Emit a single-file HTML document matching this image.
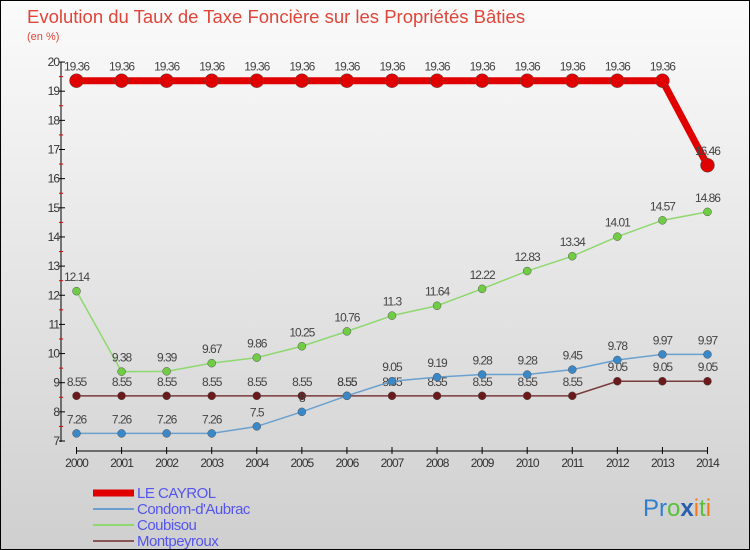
<!DOCTYPE html>
<html><head><meta charset="utf-8"><style>
body{margin:0}
#c{width:750px;height:550px;position:relative;background:linear-gradient(#fbfbfb,#cfcfcf);box-sizing:border-box;border:1px solid #000;font-family:"Liberation Sans",sans-serif;overflow:hidden}
</style></head><body>
<div id="c">
<svg id="s" width="750" height="550" style="position:absolute;left:0;top:0" font-family="Liberation Sans, sans-serif">
<text x="26" y="22" font-size="18.5" fill="#e0453a">Evolution du Taux de Taxe Foncière sur les Propriétés Bâties</text>
<text x="26" y="39" font-size="11" fill="#e0453a">(en %)</text>
<g id="g"></g>
<text x="642" y="515" font-size="24"><tspan fill="#2f7fd0">Pr</tspan><tspan fill="#5bbf3a">o</tspan><tspan fill="#2a5fb0" font-weight="bold">x</tspan><tspan fill="#f07a1a">i</tspan><tspan fill="#5bbf3a">t</tspan><tspan fill="#f07a1a">i</tspan></text>
</svg>
</div>
<script>
const years=[2000,2001,2002,2003,2004,2005,2006,2007,2008,2009,2010,2011,2012,2013,2014];
const cayrol=[19.36,19.36,19.36,19.36,19.36,19.36,19.36,19.36,19.36,19.36,19.36,19.36,19.36,19.36,16.46];
const condom=[7.26,7.26,7.26,7.26,7.5,8,8.55,9.05,9.19,9.28,9.28,9.45,9.78,9.97,9.97];
const coubisou=[12.14,9.38,9.39,9.67,9.86,10.25,10.76,11.3,11.64,12.22,12.83,13.34,14.01,14.57,14.86];
const montp=[8.55,8.55,8.55,8.55,8.55,8.55,8.55,8.55,8.55,8.55,8.55,8.55,9.05,9.05,9.05];
const yTicks=[7,8,9,10,11,12,13,14,15,16,17,18,19,20];
const NS="http://www.w3.org/2000/svg";
const g=document.getElementById('g');
const X=i=>75.5+i*45.07;
const Y=v=>440-(v-7)*29.15;
function el(t,a,p){const e=document.createElementNS(NS,t);for(const k in a)e.setAttribute(k,a[k]);(p||g).appendChild(e);return e;}
let ax=el('line',{x1:60,y1:61,x2:60,y2:441,stroke:'#000','stroke-width':1});


yTicks.forEach(v=>{
 el('line',{x1:58,x2:64,y1:Y(v),y2:Y(v),stroke:'#000'});
 if(v<20)el('line',{x1:58,x2:62,y1:Y(v+0.5),y2:Y(v+0.5),stroke:'#e00'});
 const t=el('text',{x:58,y:Y(v)+4,'font-size':12,fill:'#333','text-anchor':'end','letter-spacing':'-1'});t.textContent=v;
 
 
});
let xa=el('line',{x1:75,y1:450,x2:707,y2:450,stroke:'#000'});


years.forEach((y,i)=>{
 el('line',{x1:X(i),x2:X(i),y1:446,y2:453,stroke:'#000'});
 const t=el('text',{x:X(i),y:466,'font-size':12,fill:'#333','text-anchor':'middle','letter-spacing':'-1'});t.textContent=y;
 
 
});
function series(d,col,w,r,name,fill){
 const p=el('polyline',{points:d.map((v,i)=>X(i)+','+Y(v)).join(' '),fill:'none',stroke:col,'stroke-width':w});
 
 
 d.forEach((v,i)=>{
  const c=el('circle',{cx:X(i),cy:Y(v),r:r,fill:fill,stroke:'#555','stroke-width':0.5});
  
  
  const t=el('text',{x:X(i),y:Y(v)-10,'font-size':12,fill:'#444','text-anchor':'middle','letter-spacing':'-1'});t.textContent=v;
  
  
 });
}
series(montp,'#7a3a3a',1.5,4,'montpeyroux','#6a1a1a');
series(condom,'#6aa0d0',1.5,4,'condom-daubrac','#3a88c8');
series(coubisou,'#8fd870',1.5,4,'coubisou','#70cc44');
series(cayrol,'#e00000',7,7,'le-cayrol','#e00000');
const legend=[['LE CAYROL','#e00000',7],['Condom-d\'Aubrac','#6aa0d0',2],['Coubisou','#8fd870',2],['Montpeyroux','#8a5555',2]];
legend.forEach((L,i)=>{
 const y=491+i*16;
 const l=el('line',{x1:92,x2:133,y1:y+1,y2:y+1,stroke:L[1],'stroke-width':L[2]});
 
 
 const t=el('text',{x:136,y:y+6,'font-size':15,fill:'#5555ee','letter-spacing':'-0.5'});t.textContent=L[0];
 
 
});
</script>
</body></html>
